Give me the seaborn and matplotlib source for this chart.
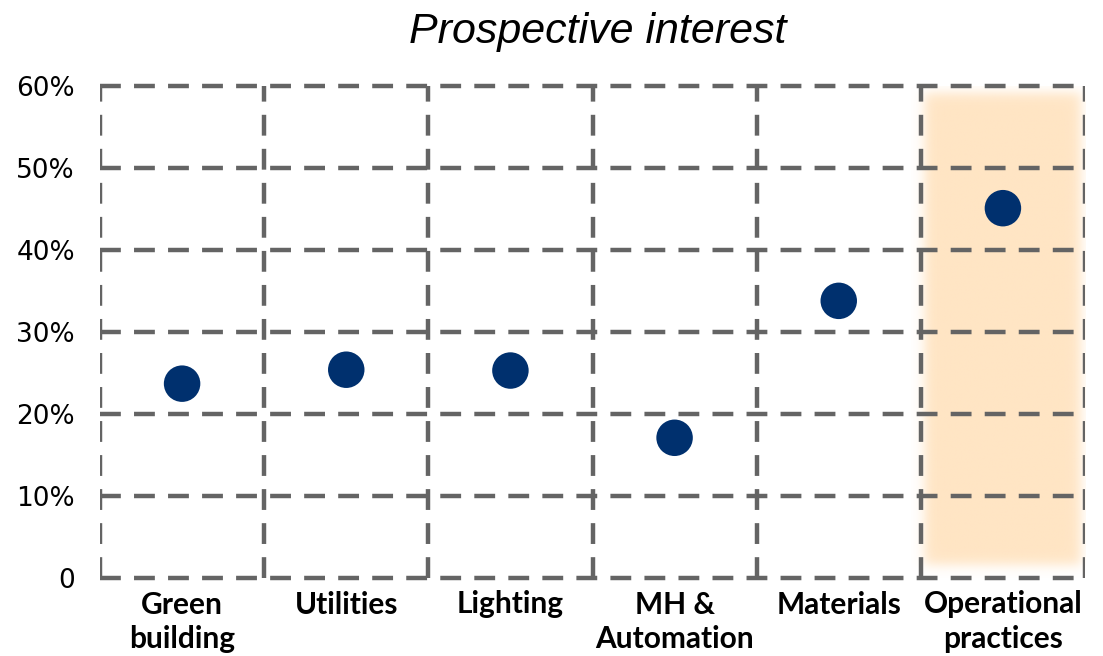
import numpy as np
import pandas as pd
import matplotlib
matplotlib.use("Agg")
import matplotlib.pyplot as plt
import seaborn as sns

# Chart data
categories = ["Green\nbuilding", "Utilities", "Lighting", "MH &\nAutomation",
              "Materials", "Operational\npractices"]
interest = [23.7, 25.4, 25.3, 17.1, 33.8, 45.1]   # percent of respondents
y_ticks = [0, 10, 20, 30, 40, 50, 60]
y_tick_labels = ["0", "10%", "20%", "30%", "40%", "50%", "60%"]
highlight_index = 5

DOT = "#00306E"
GRID = "#646464"
BAND = "#FFE5C4"

sns.set_theme(style="white")
plt.rcParams["lines.scale_dashes"] = False

df = pd.DataFrame({"category": categories, "interest": interest})

fig = plt.figure(figsize=(11.03, 6.56), dpi=100)
ax = fig.add_axes([100 / 1103, 1 - 578 / 656, 985 / 1103, 492 / 656])

# soft highlight band behind the emphasised category
nx, ny = 240, 700
x0, x1 = highlight_index - 0.56, highlight_index + 0.56
y0, y1 = -1.5, 61.5
xs = np.linspace(x0, x1, nx)
ys = np.linspace(y0, y1, ny)
px_per_x = 164.2
px_per_y = 8.2
def soft_step(d, width):
    return 1.0 / (1.0 + np.exp(-d / width))
ax_alpha = (soft_step((xs - (highlight_index - 0.48)) * px_per_x, 3.5)
            * soft_step(((highlight_index + 0.47) - xs) * px_per_x, 3.5))
ay_alpha = (soft_step((ys - 1.6) * px_per_y, 3.5)
            * soft_step((59.2 - ys) * px_per_y, 3.5))
alpha = np.outer(ay_alpha, ax_alpha)
rgba = np.zeros((ny, nx, 4))
rgba[..., :3] = matplotlib.colors.to_rgb(BAND)
rgba[..., 3] = alpha
ax.imshow(rgba, extent=(x0, x1, y0, y1), origin="lower", aspect="auto",
          interpolation="bilinear", zorder=0)

sns.scatterplot(data=df, x="category", y="interest", ax=ax, s=690,
                color=DOT, edgecolor="none", zorder=3, legend=False)

ax.set_xlim(-0.5, len(categories) - 0.5)
ax.set_ylim(0, 60)
ax.set_xticks(range(len(categories)))
ax.set_xticklabels(categories, fontsize=21.5, fontweight="bold",
                   fontfamily="Lato", color="black", linespacing=1.3)
ax.set_xticks(np.arange(-0.5, len(categories)), minor=True)
ax.set_yticks(y_ticks)
ax.set_yticklabels(y_tick_labels, fontsize=19, fontfamily="DejaVu Sans",
                   color="black")
ax.tick_params(axis="x", which="major", length=0, pad=9)
ax.tick_params(axis="x", which="minor", length=0)
ax.tick_params(axis="y", length=0, pad=18)

dash = (0, (15, 9.5))
ax.grid(False)
ax.yaxis.grid(True, which="major", color=GRID, linewidth=3.2, linestyle=dash)
ax.xaxis.grid(True, which="minor", color=GRID, linewidth=3.2, linestyle=dash)
for gl in ax.get_xgridlines() + ax.get_ygridlines():
    gl.set_clip_on(False)
ax.set_axisbelow(True)
for sp in ax.spines.values():
    sp.set_visible(False)
ax.set_xlabel("")
ax.set_ylabel("")

ax.set_title("Prospective interest", fontsize=31, fontstyle="italic",
             fontfamily="Liberation Sans", color="black", pad=31, x=0.505)

fig.savefig("out.png", dpi=100)
